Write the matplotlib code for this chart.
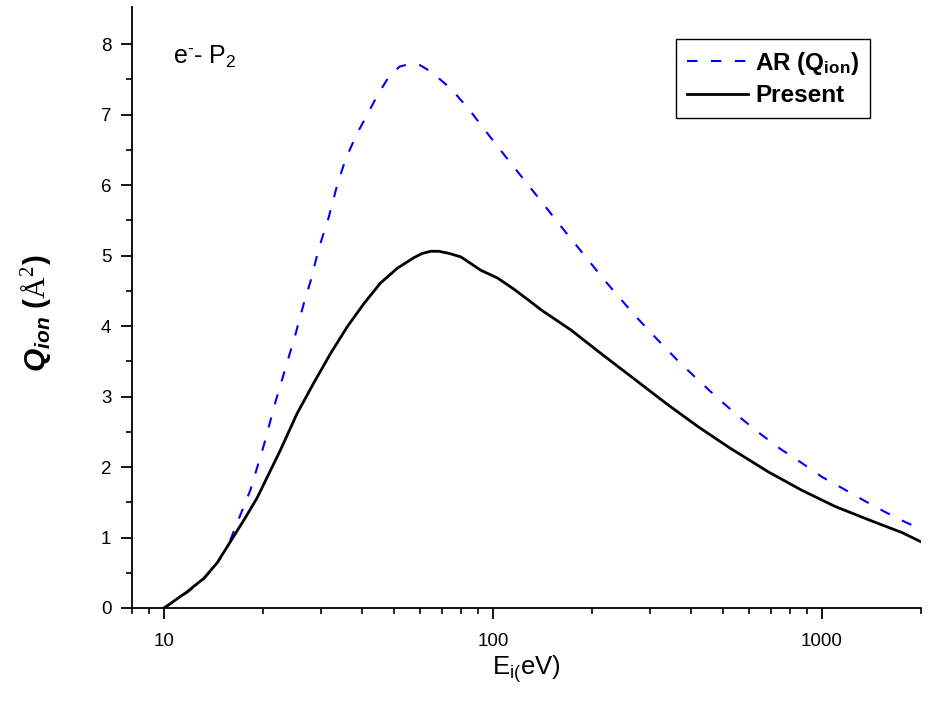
import matplotlib
matplotlib.use("Agg")
import matplotlib.pyplot as plt
import numpy as np

plt.rcParams['font.family'] = ['Liberation Sans', 'DejaVu Sans']
plt.rcParams['mathtext.fontset'] = 'custom'
plt.rcParams['mathtext.rm'] = 'Liberation Sans'
plt.rcParams['mathtext.it'] = 'Liberation Sans:italic'
plt.rcParams['mathtext.bf'] = 'Liberation Sans:bold'
plt.rcParams['mathtext.bfit'] = 'Liberation Sans:bold:italic'
plt.rcParams['mathtext.sf'] = 'Liberation Serif'

# Present calculation: energies (eV) and Q_ion (Å^2)
present_energy = [10.0, 11.75, 13.2, 14.5, 15.9, 17.5, 19.17, 22.58, 25.38, 28.5, 32.07,
                  36.06, 40.54, 45.5, 51.2, 57.5, 61.0, 64.7, 68.5, 73.5, 79.9, 91.9,
                  103.3, 116, 130.5, 140, 173, 213, 263.5, 341, 421, 525, 688, 869,
                  1098, 1390, 1753, 2000]
present_q = [0.0, 0.23, 0.42, 0.64, 0.94, 1.25, 1.56, 2.24, 2.76, 3.19, 3.61,
             3.99, 4.32, 4.61, 4.82, 4.97, 5.03, 5.06, 5.06, 5.03, 4.98, 4.79,
             4.68, 4.52, 4.34, 4.23, 3.94, 3.61, 3.28, 2.88, 2.57, 2.27, 1.93, 1.67,
             1.44, 1.25, 1.07, 0.94]

# AR (Q_ion): energies (eV) and Q_ion (Å^2)
ar_energy = [10.0, 11.75, 13.2, 14.5, 15.9, 16.2, 18.29, 20.08, 21.8, 23.66, 25.08,
             26.6, 27.9, 29.55, 31.7, 33.6, 35.6, 38.5, 41.5, 44.5, 48.3, 52.0, 56.2,
             60.0, 64.7, 74.8, 85.3, 95.2, 106.4, 119.7, 134.2, 150.3, 169, 190, 213,
             241.5, 275, 313, 361, 417, 484, 558, 646, 746, 867, 1000, 1153, 1337,
             1545, 1791, 2000]
ar_q = [0.0, 0.22, 0.41, 0.63, 0.96, 1.06, 1.67, 2.30, 2.92, 3.48, 3.88,
        4.32, 4.64, 5.10, 5.55, 6.00, 6.36, 6.72, 7.00, 7.27, 7.54, 7.68, 7.72,
        7.70, 7.61, 7.36, 7.05, 6.76, 6.47, 6.17, 5.88, 5.59, 5.29, 5.00, 4.71,
        4.41, 4.11, 3.83, 3.53, 3.25, 2.97, 2.72, 2.48, 2.26, 2.06, 1.86, 1.70,
        1.53, 1.37, 1.22, 1.12]

fig = plt.figure(figsize=(9.31, 7.07), dpi=100)
ax = fig.add_axes([131.5 / 931, 99 / 707, (921 - 131.5) / 931, (608 - 7) / 707])

ax.plot(ar_energy, ar_q, color='#0000ff', lw=1.5, dashes=(5, 6.5),
        label=r'AR (Q$_{\mathbf{ion}}$)')
ax.plot(present_energy, present_q, color='black', lw=2.0, label='Present')

ax.set_xscale('log')
ax.set_xlim(7.96, 2002)
ax.set_ylim(0, 8.525)

ax.spines['top'].set_visible(False)
ax.spines['right'].set_visible(False)
ax.spines['left'].set_linewidth(1.3)
ax.spines['bottom'].set_linewidth(1.3)

ax.set_yticks(np.arange(0, 9, 1))
ax.set_yticks(np.arange(0.5, 8.5, 1), minor=True)
ax.set_xticks([10, 100, 1000])
ax.set_xticklabels(['10', '100', '1000'])
ax.xaxis.set_minor_locator(matplotlib.ticker.LogLocator(base=10, subs=np.arange(2, 10), numticks=20))
ax.xaxis.set_minor_formatter(matplotlib.ticker.NullFormatter())

ax.tick_params(which='major', direction='out', length=8, width=1.3, labelsize=13.5)
ax.tick_params(axis='x', which='major', pad=10)
ax.tick_params(axis='y', which='major', pad=6.5)
ax.tick_params(which='minor', direction='out', length=4.3, width=1.2)

ax.set_xlabel(r'E$_{\mathrm{i(}}$eV)', fontsize=18.5)
ax.xaxis.set_label_coords(0.5, -0.075)
ax.set_ylabel(r'$\mathbfit{Q}_{\mathbfit{ion}}$ $\mathbf{(}\mathsf{\AA}^{\mathsf{2}}\mathbf{)}$',
              fontsize=21.5)
ax.yaxis.set_label_coords(-0.098, 0.49)

ax.text(0.052, 0.905, 'e$^{\\mathrm{\u2010}}$- P$_{2}$', transform=ax.transAxes,
        fontsize=18, ha='left', va='baseline')

leg = ax.legend(loc='upper left', bbox_to_anchor=(0.690, 0.947), borderaxespad=0,
                frameon=True, fancybox=False, edgecolor='black', framealpha=1,
                prop={'weight': 'bold', 'size': 17.5}, handlelength=2.5,
                handletextpad=0.3, borderpad=0.45, labelspacing=0.3)
leg.get_frame().set_linewidth(1.0)

fig.savefig('out.png', dpi=100)
